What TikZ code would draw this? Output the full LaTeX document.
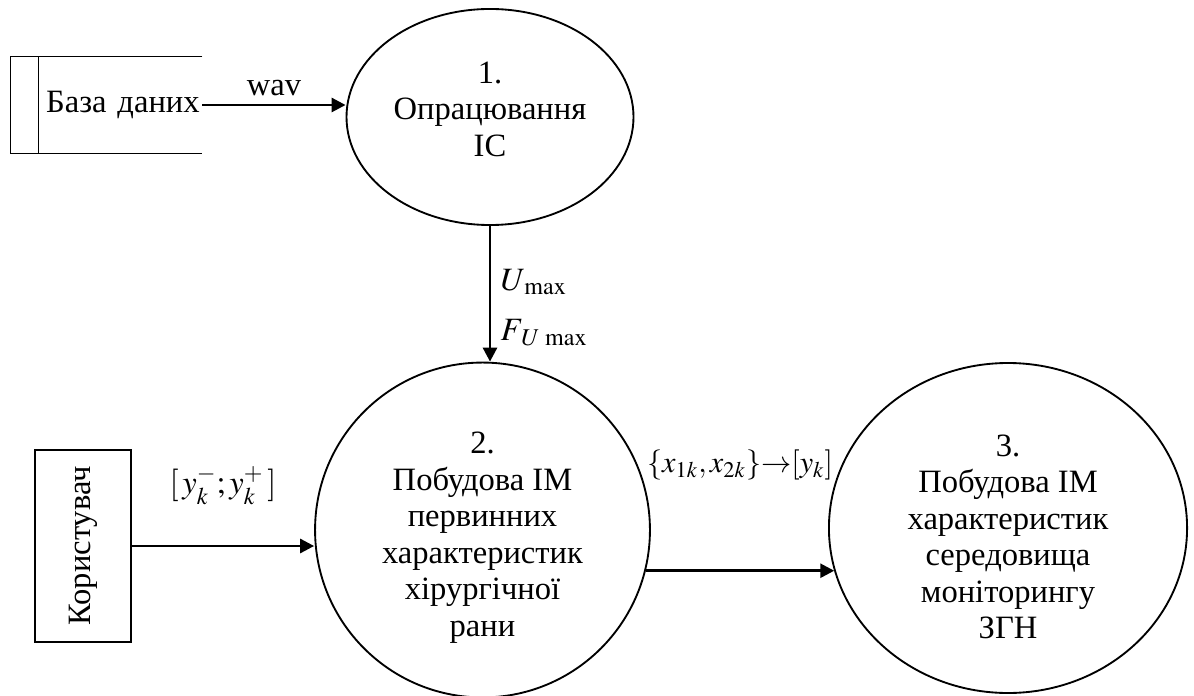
\documentclass[tikz,border=0pt]{standalone}
\usepackage{amsmath,amssymb}
\usepackage{mathptmx}
\usepackage{fontspec}
\setmainfont{Liberation Serif}
\usepackage{xcolor}
\usetikzlibrary{shapes,arrows,arrows.meta,positioning,calc}

\begin{document}
\begin{tikzpicture}[
    x=0.43pt, y=0.43pt,
    proc/.style={draw, ellipse, thick, align=center, inner sep=0pt, font=\fontsize{14}{15.7}\selectfont},
    store/.style={rectangle, inner sep=1pt, align=right, font=\fontsize{14}{15.7}\selectfont},
    ext/.style={draw, rectangle, thick, font=\fontsize{14}{15.7}\selectfont},
    lbl/.style={font=\fontsize{14}{15.7}\selectfont},
    arrow/.style={-{Triangle[length=6pt,width=6pt]}, line width=1.2pt}
]

\useasboundingbox (0,0) rectangle (1194,695);

% Processes
\node[proc, minimum width=123.4pt, minimum height=92.9pt] (proc1) at (490,578) {1.\\Опрацювання\\ІС\rule[-6.9pt]{0pt}{6.9pt}};

\node[proc, minimum width=144pt, minimum height=144pt] (proc2) at (482.5,165) {\rule{0pt}{16pt}2.\\Побудова ІМ\\первинних\\характеристик\\хірургічної\\рани};

\node[proc, minimum width=154pt, minimum height=141.9pt] (proc3) at (1008,167) {\rule{0pt}{16.8pt}3.\\Побудова ІМ\\характеристик\\середовища\\моніторингу\\ЗГН};

% Data store and user (left side)
\node[store, minimum width=82.1pt, minimum height=41.3pt, text width=80.1pt] (db) at (106.5,590) {База даних};
\draw[thick] (db.north east) -- (db.north west) -- (db.south west) -- (db.south east);
\draw[thick] ([xshift=12pt]db.north west) -- ([xshift=12pt]db.south west);

\node[ext, minimum width=41.3pt, minimum height=82.6pt] (user) at (83,149) {\rotatebox{90}{Користувач}};

% Arrows
\draw[arrow] (db.east) -- node[above, lbl] {wav} (db.east -| proc1.west);
\draw[arrow] (proc1.south) -- node[right, lbl, align=left, pos=0.6, xshift=3pt, inner sep=1pt] {$U_{\,\max}$\\[6pt]$F_{\mkern3mu U\,\max}$} (proc1.south |- proc2.north);
\draw[arrow] (user.east) -- node[above, lbl, yshift=14pt] {$[\,y_k^{-};y_k^{+}\,]$} (user.east -| proc2.west);
\draw[arrow] (proc2.346) -- node[above, font=\fontsize{13}{15}\selectfont, yshift=35pt] {$\{x_{1k},x_{2k}\}{\rightarrow}[y_k]$} (proc2.346 -| proc3.194);

\end{tikzpicture}
\end{document}
